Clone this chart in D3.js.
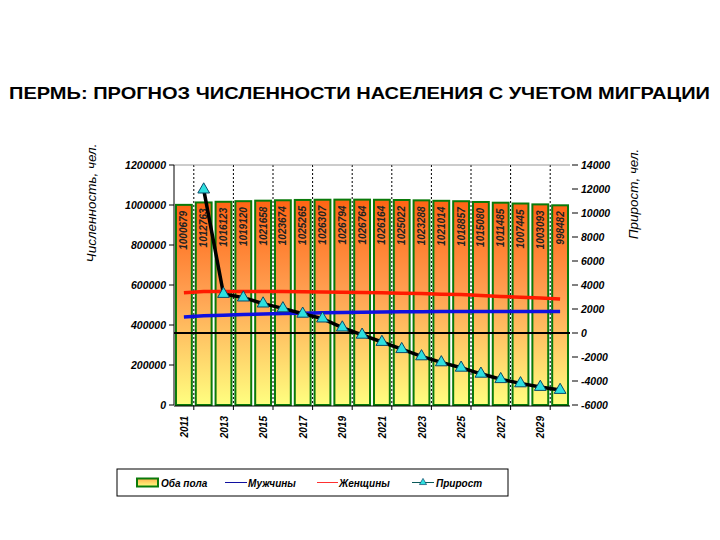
<!DOCTYPE html>
<html>
<head>
<meta charset="utf-8">
<script src="https://cdn.jsdelivr.net/npm/d3@7"></script>
<style>
  body { margin: 0; background: #fff; }
  svg { font-family: "Liberation Sans", Arial, sans-serif; }
</style>
</head>
<body>
<svg id="chart" width="720" height="540"></svg>
<script>
// данные
const years = [2011, 2012, 2013, 2014, 2015, 2016, 2017, 2018, 2019, 2020,
               2021, 2022, 2023, 2024, 2025, 2026, 2027, 2028, 2029, 2030];
const total = [1000679, 1012763, 1016123, 1019120, 1021658, 1023674, 1025265, 1026307, 1026794, 1026764,
               1026164, 1025022, 1023288, 1021014, 1018857, 1015080, 1011485, 1007445, 1003093, 998482];
const men = [440000, 446000, 449000, 452000, 455000, 457000, 459000, 461000, 463000, 464000,
             465000, 466000, 466000, 467000, 467000, 467000, 468000, 468000, 468000, 468000];
const women = [561000, 567000, 567000, 567000, 567000, 567000, 566000, 565000, 564000, 563000,
               561000, 559000, 557000, 554000, 552000, 548000, 543000, 539000, 535000, 530000];
// прирост начинается с 2012
const growthYears = years.slice(1);
const growth = [11950, 3250, 2950, 2450, 2050, 1600, 1200, 450, -150,
                -750, -1350, -1950, -2450, -2900, -3400, -3850, -4200, -4500, -4750];
const leftTicks = [0, 200000, 400000, 600000, 800000, 1000000, 1200000];
const rightTicks = [-6000, -4000, -2000, 0, 2000, 4000, 6000, 8000, 10000, 12000, 14000];
const yearLabels = [2011, 2013, 2015, 2017, 2019, 2021, 2023, 2025, 2027, 2029];

const svg = d3.select("#chart");

const plot = {left: 174, right: 570, top: 165, bottom: 405};

const x = d3.scaleBand()
    .domain(years)
    .range([plot.left, plot.right])
    .paddingInner(0.2)
    .paddingOuter(0.1);

const yL = d3.scaleLinear().domain([0, 1200000]).range([plot.bottom, plot.top]);
const yR = d3.scaleLinear().domain([-6000, 14000]).range([plot.bottom, plot.top]);

const defs = svg.append("defs");
const grad = defs.append("linearGradient")
    .attr("id", "barGrad")
    .attr("x1", 0).attr("y1", 0).attr("x2", 0).attr("y2", 1);
grad.append("stop").attr("offset", "0%").attr("stop-color", "#ff6414");
grad.append("stop").attr("offset", "45%").attr("stop-color", "#ffa052");
grad.append("stop").attr("offset", "100%").attr("stop-color", "#ffff80");

const legGrad = defs.append("linearGradient")
    .attr("id", "legGrad")
    .attr("x1", 0).attr("y1", 0).attr("x2", 0).attr("y2", 1);
legGrad.append("stop").attr("offset", "0%").attr("stop-color", "#ffb050");
legGrad.append("stop").attr("offset", "100%").attr("stop-color", "#ffff80");

// заголовок
svg.append("text")
    .attr("x", 9)
    .attr("y", 99)
    .attr("font-size", 17)
    .attr("font-weight", "bold")
    .attr("fill", "#000")
    .attr("textLength", 701)
    .attr("lengthAdjust", "spacingAndGlyphs")
    .text("ПЕРМЬ: ПРОГНОЗ ЧИСЛЕННОСТИ НАСЕЛЕНИЯ С УЧЕТОМ МИГРАЦИИ");

// верхняя граница
svg.append("line")
    .attr("x1", plot.left).attr("x2", plot.right)
    .attr("y1", plot.top).attr("y2", plot.top)
    .attr("stroke", "#999").attr("stroke-width", 1);

// вертикальная сетка (через 2 категории)
const gridX = years.filter((d, i) => i % 2 === 0).map(d => x(d) + x.bandwidth() + x.step() * x.paddingInner() / 2);
gridX.forEach(gx => {
    svg.append("line")
        .attr("x1", gx).attr("x2", gx)
        .attr("y1", plot.top).attr("y2", plot.bottom)
        .attr("stroke", "#fff").attr("stroke-width", 2);
    svg.append("line")
        .attr("x1", gx).attr("x2", gx)
        .attr("y1", plot.top).attr("y2", plot.bottom)
        .attr("stroke", "#000").attr("stroke-width", 1)
        .attr("stroke-dasharray", "2,2");
});

// столбцы
svg.append("g").selectAll("rect")
    .data(years)
    .join("rect")
    .attr("x", d => x(d))
    .attr("y", (d, i) => yL(total[i]))
    .attr("width", x.bandwidth())
    .attr("height", (d, i) => yL(0) - yL(total[i]))
    .attr("fill", "url(#barGrad)")
    .attr("stroke", "#0a7a0a")
    .attr("stroke-width", 2);

// подписи столбцов
svg.append("g").selectAll("text")
    .data(years)
    .join("text")
    .attr("transform", (d, i) => `translate(${x(d) + x.bandwidth() / 2 + 3.5},${yL(total[i]) + 6}) rotate(-90)`)
    .attr("text-anchor", "end")
    .attr("font-size", 10)
    .attr("font-weight", "bold")
    .attr("font-style", "italic")
    .attr("fill", "#222")
    .text((d, i) => total[i]);

// нулевая линия правой оси
svg.append("line")
    .attr("x1", plot.left).attr("x2", plot.right)
    .attr("y1", yR(0)).attr("y2", yR(0))
    .attr("stroke", "#000").attr("stroke-width", 2);

const cx = d => x(d) + x.bandwidth() / 2;

// женщины и мужчины
const lineL = d3.line().x(d => cx(d[0])).y(d => yL(d[1]));
svg.append("path")
    .datum(years.map((d, i) => [d, women[i]]))
    .attr("d", lineL)
    .attr("fill", "none")
    .attr("stroke", "#ff1a00")
    .attr("stroke-width", 3.5);
svg.append("path")
    .datum(years.map((d, i) => [d, men[i]]))
    .attr("d", lineL)
    .attr("fill", "none")
    .attr("stroke", "#1010e0")
    .attr("stroke-width", 3.5);

// прирост
const growthData = growthYears.map((d, i) => [d, growth[i]]);
const lineR = d3.line().x(d => cx(d[0])).y(d => yR(d[1]));
svg.append("path")
    .datum(growthData)
    .attr("d", lineR)
    .attr("fill", "none")
    .attr("stroke", "#000")
    .attr("stroke-width", 3.5);

const tri = d3.symbol().type(d3.symbolTriangle).size(60);
svg.append("g").selectAll("path")
    .data(growthData)
    .join("path")
    .attr("d", tri)
    .attr("transform", d => `translate(${cx(d[0])},${yR(d[1])})`)
    .attr("fill", "#2ee0e0")
    .attr("stroke", "#0a4a6a")
    .attr("stroke-width", 1);

// левая ось
const axisL = svg.append("g");
axisL.append("line")
    .attr("x1", plot.left).attr("x2", plot.left)
    .attr("y1", plot.top).attr("y2", plot.bottom)
    .attr("stroke", "#000");
leftTicks.forEach(t => {
    axisL.append("line")
        .attr("x1", plot.left - 5).attr("x2", plot.left)
        .attr("y1", yL(t)).attr("y2", yL(t))
        .attr("stroke", "#000");
    axisL.append("text")
        .attr("x", plot.left - 8)
        .attr("y", yL(t) + 4)
        .attr("text-anchor", "end")
        .attr("font-size", 10.5)
        .attr("font-weight", "bold")
        .attr("font-style", "italic")
        .text(t);
});

// правая ось
rightTicks.forEach(t => {
    svg.append("line")
        .attr("x1", plot.right + 2).attr("x2", plot.right + 8)
        .attr("y1", yR(t)).attr("y2", yR(t))
        .attr("stroke", "#000");
    svg.append("text")
        .attr("x", plot.right + 11)
        .attr("y", yR(t) + 4)
        .attr("font-size", 10.5)
        .attr("font-weight", "bold")
        .attr("font-style", "italic")
        .text(t);
});

// ось X
svg.append("line")
    .attr("x1", plot.left).attr("x2", plot.right)
    .attr("y1", plot.bottom + 1).attr("y2", plot.bottom + 1)
    .attr("stroke", "#000");
gridX.forEach(gx => {
    svg.append("line")
        .attr("x1", gx).attr("x2", gx)
        .attr("y1", plot.bottom).attr("y2", plot.bottom + 5)
        .attr("stroke", "#000");
});
svg.append("g").selectAll("text")
    .data(yearLabels)
    .join("text")
    .attr("transform", d => `translate(${cx(d) + 4},${plot.bottom + 11}) rotate(-90)`)
    .attr("text-anchor", "end")
    .attr("font-size", 10)
    .attr("font-weight", "bold")
    .attr("font-style", "italic")
    .text(d => d);

// названия осей
svg.append("text")
    .attr("transform", "translate(96,203) rotate(-90)")
    .attr("text-anchor", "middle")
    .attr("font-size", 13.5)
    .attr("font-style", "italic")
    .text("Численность, чел.");
svg.append("text")
    .attr("transform", "translate(638,194) rotate(-90)")
    .attr("text-anchor", "middle")
    .attr("font-size", 13.5)
    .attr("font-style", "italic")
    .text("Прирост, чел.");

// легенда
const leg = svg.append("g");
leg.append("rect")
    .attr("x", 117).attr("y", 469)
    .attr("width", 391).attr("height", 27)
    .attr("fill", "#fff")
    .attr("stroke", "#000");
const legY = 482.5;
leg.append("rect")
    .attr("x", 137).attr("y", legY - 4)
    .attr("width", 21).attr("height", 8)
    .attr("fill", "url(#legGrad)")
    .attr("stroke", "#0a7a0a").attr("stroke-width", 2);
leg.append("line")
    .attr("x1", 225).attr("x2", 247).attr("y1", legY).attr("y2", legY)
    .attr("stroke", "#1010a0").attr("stroke-width", 1);
leg.append("line")
    .attr("x1", 317).attr("x2", 338).attr("y1", legY).attr("y2", legY)
    .attr("stroke", "#ff3030").attr("stroke-width", 1);
leg.append("line")
    .attr("x1", 412).attr("x2", 434).attr("y1", legY).attr("y2", legY)
    .attr("stroke", "#0a5a5a").attr("stroke-width", 1);
leg.append("path")
    .attr("d", d3.symbol().type(d3.symbolTriangle).size(22))
    .attr("transform", `translate(423,${legY})`)
    .attr("fill", "#2ee0e0")
    .attr("stroke", "#0a4a6a").attr("stroke-width", 0.7);
const legendItems = [["Оба пола", 161], ["Мужчины", 248], ["Женщины", 339], ["Прирост", 436]];
legendItems.forEach(([t, lx]) => {
    leg.append("text")
        .attr("x", lx).attr("y", legY + 4)
        .attr("font-size", 10)
        .attr("font-weight", "bold")
        .attr("font-style", "italic")
        .text(t);
});
</script>
</body>
</html>
